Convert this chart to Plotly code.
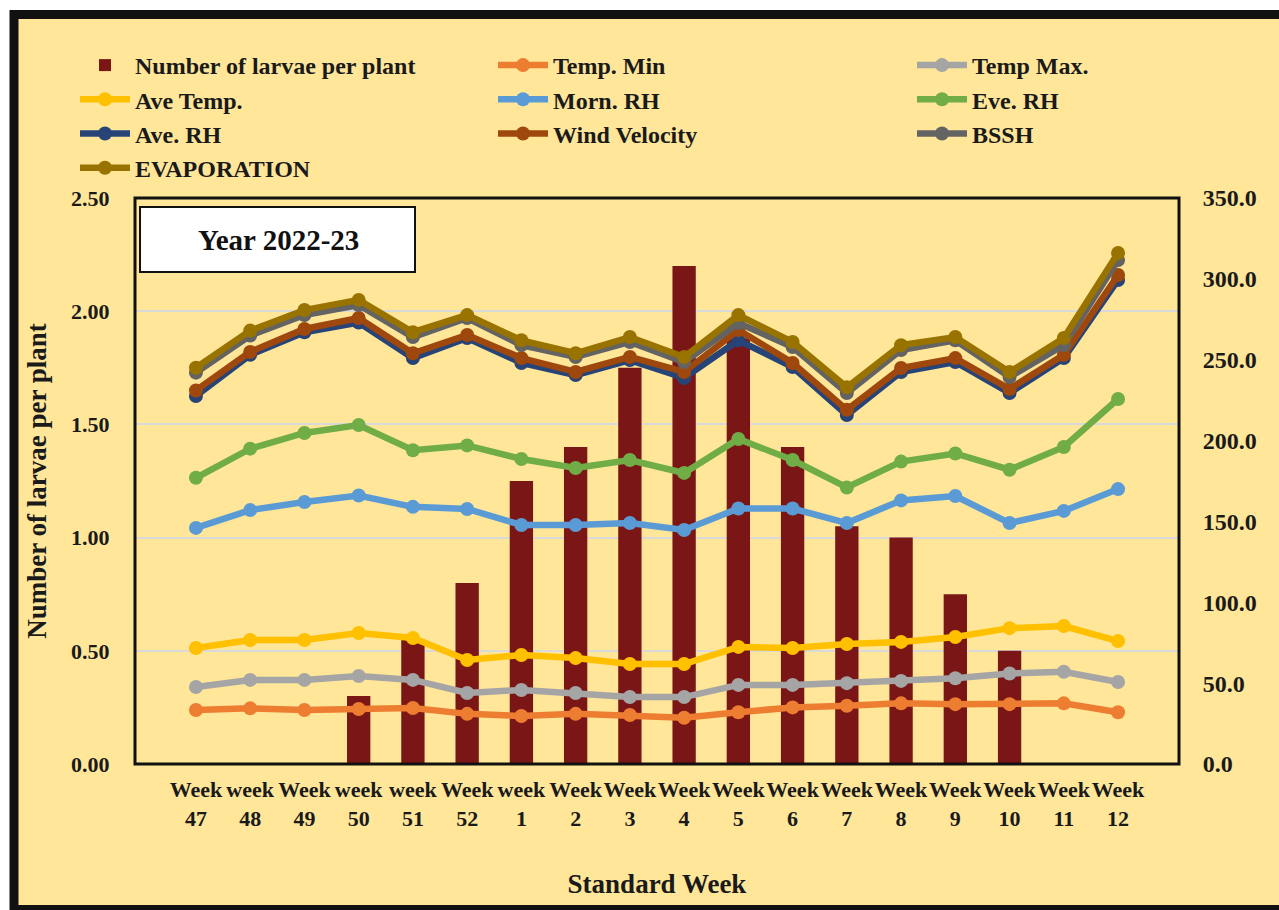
import plotly.graph_objects as go

weeks = ["Week<br>47", "week<br>48", "Week<br>49", "week<br>50", "week<br>51", "Week<br>52",
         "week<br>1", "Week<br>2", "Week<br>3", "Week<br>4", "Week<br>5", "Week<br>6",
         "Week<br>7", "Week<br>8", "Week<br>9", "Week<br>10", "Week<br>11", "Week<br>12"]

larvae = [0, 0, 0, 0.30, 0.55, 0.80, 1.25, 1.40, 1.75, 2.20, 1.88, 1.40, 1.05, 1.00, 0.75, 0.50, 0, 0]

temp_min = [33.4, 34.4, 33.4, 34.0, 34.6, 31.0, 29.7, 31.0, 30.3, 28.6, 32.0, 35.0, 36.0, 37.5, 37.0, 37.0, 37.5, 32.0]
temp_max = [47.6, 52.0, 52.0, 54.4, 52.0, 43.9, 45.8, 43.9, 41.4, 41.4, 48.9, 48.9, 50.0, 51.4, 53.0, 56.0, 57.0, 50.7]
ave_temp = [71.7, 76.7, 76.7, 81.0, 77.9, 64.3, 67.4, 65.5, 61.8, 61.8, 72.4, 71.7, 74.2, 75.5, 78.5, 84.0, 85.3, 76.0]
morn_rh = [146, 157, 162, 166, 159, 157.7, 147.8, 147.8, 149, 144.7, 158, 158, 149, 163, 165.7, 149, 156.5, 170]
eve_rh = [177, 195, 204.7, 209.6, 194, 197, 188.6, 183, 188, 180, 201, 188, 171, 187, 192, 182, 196, 225.7]
ave_rh = [227.6, 253, 267, 273, 251, 263.4, 248, 240.5, 249.8, 238.7, 262, 245.5, 215.8, 242.4, 248.6, 229.4, 251, 299.3]
wind_velocity = [231, 254.8, 269, 275.8, 254, 265.3, 251, 242.4, 251.7, 242.4, 268.4, 248, 219, 244.9, 251, 231.9, 253, 302.4]
bssh = [242, 265, 277.6, 283.8, 264, 275.8, 259, 251.7, 261, 248.6, 272.7, 257.9, 229.4, 256, 262, 239.3, 259, 311.7]
evaporation = [245, 268, 280.7, 287, 267, 277.6, 262, 254, 264, 251.7, 277.6, 261, 233, 259, 264, 242.4, 263.4, 316]

# (name, values, colour, legend column)
line_series = [
    ("Temp. Min", temp_min, "#ED7D31", "legend2"),
    ("Temp Max.", temp_max, "#A5A5A5", "legend3"),
    ("Ave Temp.", ave_temp, "#FFC000", "legend"),
    ("Morn. RH", morn_rh, "#5B9BD5", "legend2"),
    ("Eve. RH", eve_rh, "#70AD47", "legend3"),
    ("Ave. RH", ave_rh, "#264478", "legend"),
    ("Wind Velocity", wind_velocity, "#9E480E", "legend2"),
    ("BSSH", bssh, "#636363", "legend3"),
    ("EVAPORATION", evaporation, "#997300", "legend"),
]

FONT = "Liberation Serif"
INK = "#1a1a1a"
W, H = 1279, 910
L, R, T, B = 135, 100, 198, 146
PW, PH = W - L - R, H - T - B


def px(x):
    return (x - L) / PW


def py(y):
    return (H - B - y) / PH


fig = go.Figure()
fig.add_trace(go.Bar(x=weeks, y=larvae, name="Number of larvae per plant",
                     marker=dict(color="#7B1616", line=dict(width=0)), width=0.43, yaxis="y",
                     legend="legend"))
for name, vals, col, leg in line_series:
    fig.add_trace(go.Scatter(x=weeks, y=vals, name=name, yaxis="y2", mode="lines+markers",
                             line=dict(color=col, width=6.5), marker=dict(color=col, size=14),
                             legend=leg))

legfont = dict(family=FONT, size=24, color=INK, weight="bold")


def leg(xpx):
    return dict(orientation="v", x=px(xpx), y=py(43), xanchor="left", yanchor="top",
                font=legfont, itemwidth=50, bgcolor="rgba(0,0,0,0)", traceorder="normal")


fig.update_layout(
    width=W, height=H,
    margin=dict(l=L, r=R, t=T, b=B, autoexpand=False),
    paper_bgcolor="white",
    plot_bgcolor="white",
    showlegend=True,
    legend=leg(75),
    legend2=leg(493),
    legend3=leg(912),
    xaxis=dict(type="category", tickfont=dict(family=FONT, size=22, color=INK, weight="bold"),
               tickangle=0,
               showgrid=False, ticks="outside", ticklen=6, tickcolor="rgba(0,0,0,0)", showline=False,
               title=dict(text="Standard Week", font=dict(family=FONT, size=27, color=INK, weight="bold"),
                          standoff=44)),
    yaxis=dict(range=[0, 2.5], tickvals=[0, 0.5, 1.0, 1.5, 2.0, 2.5], tickformat=".2f",
               tickfont=dict(family=FONT, size=22, color=INK, weight="bold"),
               showgrid=True, gridcolor="#D9D9D9", gridwidth=2,
               ticks="outside", ticklen=20, tickcolor="rgba(0,0,0,0)", zeroline=False,
               title=dict(text="Number of larvae per plant",
                          font=dict(family=FONT, size=27, color=INK, weight="bold"), standoff=16)),
    yaxis2=dict(range=[0, 350], tickvals=[0, 50, 100, 150, 200, 250, 300, 350], tickformat=".1f",
                overlaying="y", side="right", tickfont=dict(family=FONT, size=24, color=INK, weight="bold"),
                showgrid=False, zeroline=False,
                ticks="outside", ticklen=18, tickcolor="rgba(0,0,0,0)"),
    shapes=[
        dict(type="rect", xref="paper", yref="paper", x0=px(14), x1=px(1300), y0=py(909.5), y1=py(14.5),
             fillcolor="#FFE699", line=dict(color="#111111", width=9), layer="below"),
        dict(type="rect", xref="paper", yref="paper", x0=0, x1=1, y0=0, y1=1,
             line=dict(color="#111111", width=3), layer="above"),
        dict(type="rect", xref="paper", yref="paper", x0=px(140), x1=px(415), y0=py(272), y1=py(207),
             fillcolor="white", line=dict(color="#111111", width=2), layer="above"),
    ],
    annotations=[
        dict(text="Year 2022-23", xref="paper", yref="paper", x=px(278), y=py(240),
             xanchor="center", yanchor="middle",
             showarrow=False, font=dict(family=FONT, size=29, color="#111111", weight="bold")),
    ],
)

fig.write_html("out.html")
